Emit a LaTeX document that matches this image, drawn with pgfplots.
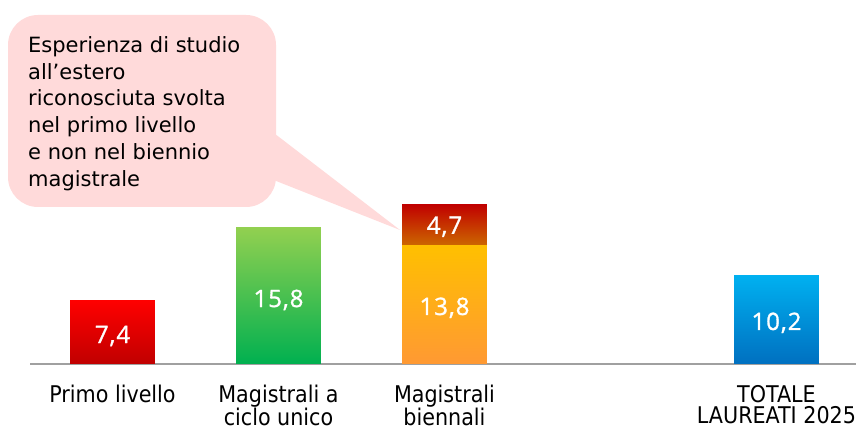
\documentclass[border=0pt]{standalone}
\usepackage{fontspec}
\usepackage{pgfplots}
\pgfplotsset{compat=1.18}
\setmainfont{DejaVu Sans}
\newfontfamily\bubblefont{DejaVu Sans}
\newfontfamily\labelfontfam{DejaVu Sans Condensed}
\newfontfamily\numfontfam[FakeBold=1.2, LetterSpace=4]{Open Sans}
\newcommand\labelfont{\labelfontfam\fontsize{23}{21.7}\selectfont}
\newcommand\numfont{\numfontfam\fontsize{24}{24}\selectfont}
\definecolor{bubble}{HTML}{FFDADA}
\definecolor{axisgray}{HTML}{A0A0A0}
\definecolor{redtop}{HTML}{FF0000}
\definecolor{redbot}{HTML}{C00000}
\definecolor{greentop}{HTML}{92D050}
\definecolor{greenbot}{HTML}{00B050}
\definecolor{orangetop}{HTML}{FFC000}
\definecolor{orangebot}{HTML}{FF9933}
\definecolor{segtop}{HTML}{C00000}
\definecolor{segbot}{HTML}{CC6600}
\definecolor{bluetop}{HTML}{00B0F0}
\definecolor{bluebot}{HTML}{0070C0}
\begin{document}
\begin{tikzpicture}
\useasboundingbox (0pt,0pt) rectangle (856pt,430pt);
% callout bubble
\fill[bubble, rounded corners=30pt] (8pt,223pt) rectangle (276pt,415pt);
\fill[bubble] (266pt,303pt) -- (400pt,200pt) -- (266pt,253pt) -- cycle;
\node[anchor=north west, inner sep=0pt, align=left,
      font=\bubblefont\fontsize{21}{26.7}\selectfont] at (28pt,393.6pt)
  {Esperienza di studio\\all’estero\\riconosciuta svolta\\nel primo livello\\e non nel biennio\\magistrale};
\begin{axis}[
  at={(30pt,66pt)}, anchor=south west,
  scale only axis, width=826pt, height=258.9pt,
  xmin=-0.497, xmax=4.479, ymin=0, ymax=30,
  axis y line=none, axis x line*=bottom,
  x axis line style={draw=axisgray, line width=1.5pt, -},
  xtick={0,1,2,4},
  xticklabels={Primo livello, {Magistrali a\\ciclo unico}, {Magistrali\\biennali}, {TOTALE\\LAUREATI 2025}},
  major tick length=0pt,
  xticklabel style={font=\labelfont, align=center, anchor=north, inner sep=0pt, yshift=-21pt, text=black},
  ytick=\empty,
  clip=false,
  bar width=0.512,
]
\addplot[ybar, bar shift=0pt, draw=none, top color=redtop, bottom color=redbot] coordinates {(0,7.4)};
\addplot[ybar, bar shift=0pt, draw=none, top color=greentop, middle color=greenbot, bottom color=greenbot] coordinates {(1,15.8)};
\addplot[ybar, bar shift=0pt, draw=none, top color=orangetop, bottom color=orangebot] coordinates {(2,13.8)};
\addplot[draw=none, top color=segtop, bottom color=segbot] coordinates {(1.744,13.8) (2.256,13.8) (2.256,18.5) (1.744,18.5)} -- cycle;
\addplot[ybar, bar shift=0pt, draw=none, top color=bluetop, bottom color=bluebot] coordinates {(4,10.2)};
% value labels
\addplot[draw=none, mark=none, point meta=explicit, nodes near coords,
  nodes near coords style={anchor=base, inner sep=0pt, font=\numfont, text=white,
    /pgf/number format/use comma, /pgf/number format/fixed,
    /pgf/number format/fixed zerofill, /pgf/number format/precision=1,
    /pgf/number format/assume math mode=true}]
  coordinates {(0,2.43)[7.4] (1,6.6)[15.8] (2,5.68)[13.8] (2,15.09)[4.7] (4,3.94)[10.2]};
\end{axis}
\end{tikzpicture}
\end{document}
